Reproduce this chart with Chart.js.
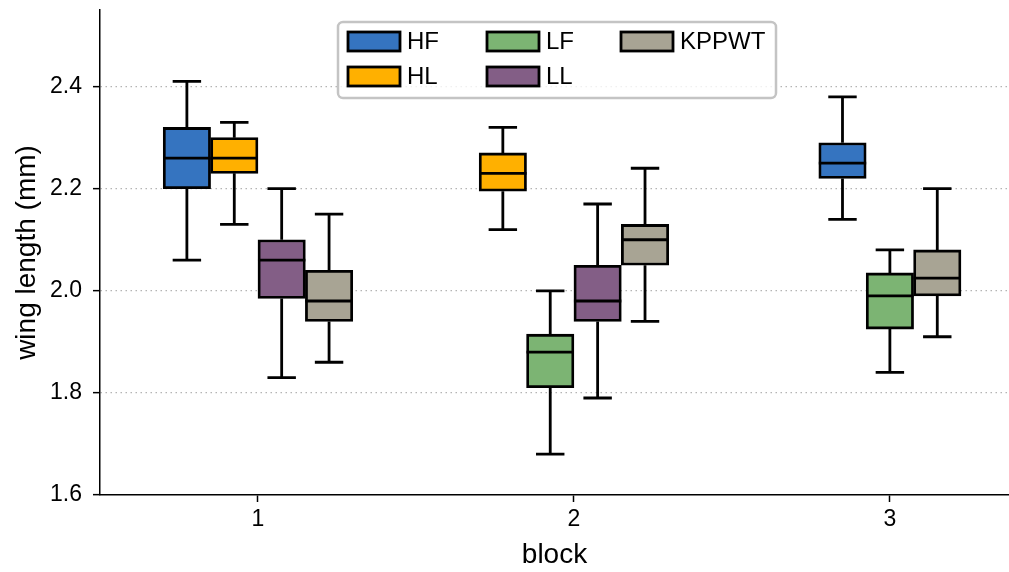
<!DOCTYPE html>
<html>
<head>
<meta charset="utf-8">
<script src="https://cdn.jsdelivr.net/npm/chart.js@4.4.1/dist/chart.umd.min.js"></script>
<style>
  html, body { margin: 0; padding: 0; background: #fff; }
  #wrap { width: 1009px; height: 572px; position: relative; }
</style>
</head>
<body>
<div id="wrap"><canvas id="boxChart"></canvas></div>
<script>
// blocks en el eje x y ticks del eje y
const blocks = ['1', '2', '3'];
const yTicks = [1.6, 1.8, 2.0, 2.2, 2.4];

// grupos (orden de la leyenda, columna por columna)
const groups = ['HF', 'HL', 'LF', 'LL', 'KPPWT'];
const groupColors = ['#3574c0', '#ffb000', '#7cb473', '#835e86', '#a8a494'];

// estadísticas por bloque: [min, q1, mediana, q3, max], null = sin datos
const statsHF    = [[2.06, 2.20, 2.26, 2.32, 2.41], null, [2.14, 2.22, 2.25, 2.29, 2.38]];
const statsHL    = [[2.13, 2.23, 2.26, 2.30, 2.33], [2.12, 2.195, 2.23, 2.27, 2.32], null];
const statsLF    = [null, [1.68, 1.81, 1.88, 1.915, 2.00], [1.84, 1.925, 1.99, 2.035, 2.08]];
const statsLL    = [[1.83, 1.985, 2.06, 2.10, 2.20], [1.79, 1.94, 1.98, 2.05, 2.17], null];
const statsKPPWT = [[1.86, 1.94, 1.98, 2.04, 2.15], [1.94, 2.05, 2.10, 2.13, 2.24], [1.91, 1.99, 2.025, 2.08, 2.20]];

const allStats = [statsHF, statsHL, statsLF, statsLL, statsKPPWT];
const dodgeStep = 0.15;
const FONT = '"Liberation Sans", Arial, sans-serif';
const LINE_W = 2.8;

// Construir datasets: cada caja es una barra flotante q1..q3
function buildDatasets() {
  const datasets = groups.map((g, gi) => ({
    label: g,
    data: [],
    backgroundColor: groupColors[gi],
    borderColor: '#000',
    borderWidth: LINE_W,
    borderSkipped: false,
    grouped: false,
    barPercentage: 1,
    categoryPercentage: 1
  }));
  blocks.forEach((b, bi) => {
    const present = groups.filter((g, gi) => allStats[gi][bi]);
    present.forEach((g, k) => {
      const gi = groups.indexOf(g);
      const s = allStats[gi][bi];
      const x = bi + (k - (present.length - 1) / 2) * dodgeStep;
      datasets[gi].data.push({ x: x, y: [s[1], s[3]], stats: s });
    });
  });
  return datasets;
}

// Bigotes y medianas
const whiskerPlugin = {
  id: 'whiskers',
  afterDatasetsDraw(chart) {
    const ctx = chart.ctx;
    const yScale = chart.scales.y;
    ctx.save();
    ctx.strokeStyle = '#000';
    ctx.lineWidth = LINE_W;
    ctx.lineCap = 'butt';
    chart.data.datasets.forEach((ds, di) => {
      const meta = chart.getDatasetMeta(di);
      meta.data.forEach((el, i) => {
        const s = ds.data[i].stats;
        const { x, width } = el.getProps(['x', 'width'], true);
        const yMin = yScale.getPixelForValue(s[0]);
        const yQ1 = yScale.getPixelForValue(s[1]);
        const yMed = yScale.getPixelForValue(s[2]);
        const yQ3 = yScale.getPixelForValue(s[3]);
        const yMax = yScale.getPixelForValue(s[4]);
        const cap = width * 0.3;
        ctx.beginPath();
        ctx.moveTo(x, yQ3); ctx.lineTo(x, yMax);
        ctx.moveTo(x - cap, yMax); ctx.lineTo(x + cap, yMax);
        ctx.moveTo(x, yQ1); ctx.lineTo(x, yMin);
        ctx.moveTo(x - cap, yMin); ctx.lineTo(x + cap, yMin);
        ctx.moveTo(x - width / 2, yMed); ctx.lineTo(x + width / 2, yMed);
        ctx.stroke();
      });
    });
    ctx.restore();
  }
};

// Leyenda tipo matplotlib (3 columnas)
const legendPlugin = {
  id: 'mplLegend',
  afterDraw(chart) {
    const ctx = chart.ctx;
    const area = chart.chartArea;
    const bx = area.left + 238, by = area.top + 12, bw = 438, bh = 76;
    ctx.save();
    ctx.fillStyle = 'rgba(255,255,255,0.8)';
    ctx.strokeStyle = '#c4c4c4';
    ctx.lineWidth = 2.5;
    ctx.beginPath();
    ctx.roundRect(bx, by, bw, bh, 5);
    ctx.fill();
    ctx.stroke();
    const colX = [bx + 10, bx + 149, bx + 283];
    const rowY = [by + 19.5, by + 54.5];
    ctx.font = '24px ' + FONT;
    ctx.textBaseline = 'middle';
    ctx.textAlign = 'left';
    groups.forEach((g, gi) => {
      const col = Math.floor(gi / 2), row = gi % 2;
      const px = colX[col], py = rowY[row];
      ctx.fillStyle = groupColors[gi];
      ctx.fillRect(px, py - 9.5, 52, 19);
      ctx.lineWidth = LINE_W;
      ctx.strokeStyle = '#000';
      ctx.strokeRect(px, py - 9.5, 52, 19);
      ctx.fillStyle = '#000';
      ctx.fillText(g, px + 59, py + 1);
    });
    ctx.restore();
  }
};

// quitar el margen que Chart.js reserva para las etiquetas extremas
function noLabelPadding(scale) {
  scale.paddingTop = 0;
  scale.paddingBottom = 0;
  scale.paddingLeft = 0;
  scale.paddingRight = 0;
}

const ctx = document.getElementById('boxChart');
new Chart(ctx, {
  type: 'bar',
  data: { datasets: buildDatasets() },
  options: {
    responsive: true,
    maintainAspectRatio: false,
    animation: false,
    layout: { padding: { top: 10, right: 0, left: 0, bottom: 0 } },
    plugins: {
      legend: { display: false },
      tooltip: { enabled: false }
    },
    scales: {
      x: {
        type: 'linear',
        offset: false,
        min: -0.5,
        max: 2.377,
        afterBuildTicks: (scale) => { scale.ticks = blocks.map((b, i) => ({ value: i })); },
        afterFit: (scale) => { scale.height = 77; noLabelPadding(scale); },
        ticks: {
          callback: (v) => blocks[v],
          color: '#000',
          font: { family: FONT, size: 23 },
          padding: 4,
          maxRotation: 0,
          autoSkip: false
        },
        grid: { offset: false, drawOnChartArea: false, tickLength: 7, tickColor: '#000', tickWidth: 1.5 },
        border: { color: '#000', width: 1.5 },
        title: {
          display: true,
          text: 'block',
          color: '#000',
          font: { family: FONT, size: 28 },
          padding: { top: 0, bottom: 0 }
        }
      },
      y: {
        min: 1.6,
        max: 2.55,
        afterBuildTicks: (scale) => { scale.ticks = yTicks.map(v => ({ value: v })); },
        afterFit: (scale) => { scale.width = 100; noLabelPadding(scale); },
        ticks: {
          callback: (v) => v.toFixed(1),
          color: '#000',
          font: { family: FONT, size: 23 },
          padding: 11
        },
        grid: {
          color: (c) => c.tick && c.tick.value === yTicks[0] ? 'rgba(0,0,0,0)' : '#b4b4b4',
          lineWidth: 1.3,
          tickLength: 7,
          tickColor: '#000',
          tickWidth: 1.5
        },
        border: { color: '#000', width: 1.5, dash: [1.5, 3.5] },
        title: {
          display: true,
          text: 'wing length (mm)',
          color: '#000',
          font: { family: FONT, size: 28 },
          padding: { top: 10, bottom: 0 }
        }
      }
    }
  },
  plugins: [whiskerPlugin, legendPlugin]
});
</script>
</body>
</html>
